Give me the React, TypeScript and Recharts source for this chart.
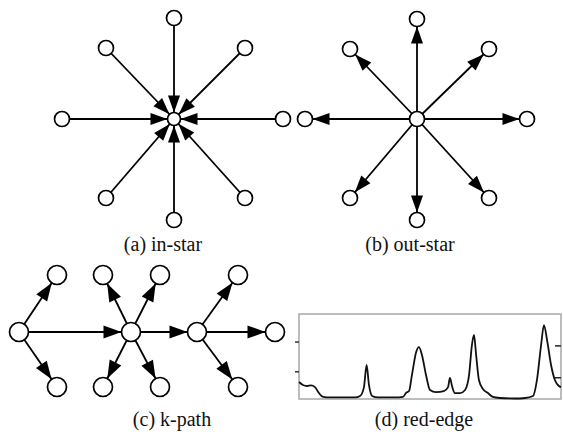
import { ComposedChart, LineChart, Line, Scatter, XAxis, YAxis, ReferenceArea, ReferenceLine } from 'recharts';

// (a) in-star: every leaf points into the hub
const inStarHub = { x: 174, y: 119 };
const inStarLeafX = [174, 106, 245, 62, 283, 106, 245, 174];
const inStarLeafY = [18, 48, 48, 119, 119, 198, 198, 220];

// (b) out-star: the hub points out to every leaf
const outStarHub = { x: 417, y: 119 };
const outStarLeafX = [417, 350, 489, 305, 527, 350, 489, 417];
const outStarLeafY = [19, 49, 49, 119, 119, 198, 198, 220];

// (c) k-path
const kPathX = [19, 57, 57, 131, 103, 160, 103, 160, 197, 238, 238, 275];
const kPathY = [332, 275, 387, 332, 275, 275, 387, 387, 332, 275, 387, 332];
const kPathEdges = [
  [0, 1], [0, 2], [0, 3],
  [3, 4], [3, 5], [3, 6], [3, 7], [3, 8],
  [8, 9], [8, 10], [8, 11],
];

// (d) red-edge spectrum
const redEdgeBand = [
  0, 1.5, 3.1, 4.6, 6.1, 7.6, 9.2, 11.8, 15.6, 21.4, 23.3, 24.8, 25.8, 26.7, 27.9,
  30.2, 36.6, 39.7, 40.8, 42, 43.1, 44.7, 45.8, 46.9, 48.5, 50, 52.3, 55.3, 56.9,
  57.6, 58.4, 59.5, 61.5, 63.4, 64.9, 66, 66.8, 67.6, 68.7, 70.2, 72.1, 74, 76.7,
  82.4, 86.3, 89.3, 90.8, 92.4, 93.5, 94.7, 96.2, 97.7, 99.2, 100,
];
const redEdgeValue = [
  0.2, 0.165, 0.153, 0.16, 0.14, 0.07, 0.024, 0.018, 0.018, 0.018, 0.035, 0.14, 0.4,
  0.165, 0.035, 0.018, 0.018, 0.024, 0.07, 0.094, 0.28, 0.55, 0.61, 0.52, 0.28,
  0.106, 0.082, 0.094, 0.14, 0.247, 0.153, 0.07, 0.07, 0.106, 0.28, 0.635, 0.753,
  0.52, 0.22, 0.118, 0.07, 0.024, 0.012, 0.006, 0.012, 0.035, 0.22, 0.635, 0.87,
  0.69, 0.4, 0.22, 0.153, 0.14,
];
const leftTicks = [0.32, 0.67];
const rightTicks = [0.25, 0.625];

const captions = [
  { text: '(a) in-star', cx: 163, top: 234 },
  { text: '(b) out-star', cx: 410, top: 234 },
  { text: '(c) k-path', cx: 172, top: 409 },
  { text: '(d) red-edge', cx: 424, top: 409 },
];

const toPoints = (xs: number[], ys: number[]) => xs.map((x, i) => ({ x, y: ys[i] }));

const inStarLeaves = toPoints(inStarLeafX, inStarLeafY);
const outStarLeaves = toPoints(outStarLeafX, outStarLeafY);
const kPathNodes = toPoints(kPathX, kPathY);
const spectrum = redEdgeBand.map((band, i) => ({ band, value: redEdgeValue[i] }));

type Edge = { id: string; from: { x: number; y: number }; to: { x: number; y: number }; marker: string };

const edges: Edge[] = [
  ...inStarLeaves.map((p, i) => ({ id: `in-${i}`, from: p, to: inStarHub, marker: 'arrowHub' })),
  ...outStarLeaves.map((p, i) => ({ id: `out-${i}`, from: outStarHub, to: p, marker: 'arrowLeaf' })),
  ...kPathEdges.map(([a, b]) => ({ id: `k-${a}-${b}`, from: kPathNodes[a], to: kPathNodes[b], marker: 'arrowPath' })),
];

const nodeShape = (r: number) => (props: any) => (
  <circle cx={props.cx} cy={props.cy} r={r} fill="#fff" stroke="#000" strokeWidth={1.7} />
);

const noLabel = () => <g />;

// inward tick stub on the right edge of the box
const rightTickShape = (props: any) => {
  const x2 = Math.max(props.x1, props.x2);
  const y = props.y1;
  return <line x1={x2 - 6} y1={y} x2={x2} y2={y} stroke="#222" strokeWidth={1.5} />;
};

function Arrow({ id, len, wide, r }: { id: string; len: number; wide: number; r: number }) {
  return (
    <marker
      id={id}
      markerUnits="userSpaceOnUse"
      markerWidth={len}
      markerHeight={wide}
      refX={len + r}
      refY={wide / 2}
      orient="auto"
      overflow="visible"
    >
      <path d={`M0,0 L${len},${wide / 2} L0,${wide} Z`} fill="#000" />
    </marker>
  );
}

const serif = "'Liberation Serif', 'Times New Roman', Times, serif";

export default function App() {
  return (
    <div style={{ position: 'fixed', left: 0, top: 0, width: 563, height: 432, background: '#fff' }}>
      <svg width={0} height={0} style={{ position: 'absolute' }}>
        <defs>
          <Arrow id="arrowHub" len={17} wide={12} r={6.5} />
          <Arrow id="arrowLeaf" len={17} wide={12} r={7.5} />
          <Arrow id="arrowPath" len={18} wide={13} r={9.5} />
        </defs>
      </svg>

      {/* graph panels a, b, c */}
      <ComposedChart width={563} height={432} margin={{ top: 0, right: 0, bottom: 0, left: 0 }} style={{ position: 'absolute', left: 0, top: 0 }}>
        <XAxis dataKey="x" type="number" domain={[0, 563]} hide />
        <YAxis dataKey="y" type="number" domain={[0, 432]} reversed hide />
        {edges.map((e) => (
          <Line
            key={e.id}
            data={[e.from, e.to]}
            dataKey="y"
            type="linear"
            stroke="#000"
            strokeWidth={1.8}
            dot={false}
            activeDot={false}
            markerEnd={`url(#${e.marker})`}
            isAnimationActive={false}
          />
        ))}
        <Scatter data={inStarLeaves} shape={nodeShape(7.5)} isAnimationActive={false} />
        <Scatter data={[inStarHub]} shape={nodeShape(6.5)} isAnimationActive={false} />
        <Scatter data={[outStarHub, ...outStarLeaves]} shape={nodeShape(7.5)} isAnimationActive={false} />
        <Scatter data={kPathNodes} shape={nodeShape(9.5)} isAnimationActive={false} />
      </ComposedChart>

      {/* panel d */}
      <LineChart
        width={268}
        height={87}
        data={spectrum}
        margin={{ top: 1, right: 2, bottom: 1, left: 0 }}
        style={{ position: 'absolute', left: 295, top: 313 }}
      >
        <XAxis dataKey="band" type="number" domain={[0, 100]} hide />
        <YAxis type="number" domain={[0, 1]} ticks={leftTicks} tick={noLabel} tickSize={4} tickLine={{ stroke: '#333', strokeWidth: 1.5 }} axisLine={false} width={4} />
        <ReferenceArea x1={0} x2={100} y1={0} y2={1} fill="none" stroke="#a8a8a8" strokeWidth={1.5} ifOverflow="visible" />
        {rightTicks.map((t) => (
          <ReferenceLine key={t} y={t} shape={rightTickShape} ifOverflow="visible" />
        ))}
        <Line type="monotone" dataKey="value" stroke="#111" strokeWidth={1.8} dot={false} activeDot={false} isAnimationActive={false} />
      </LineChart>

      <svg width={563} height={432} style={{ position: 'absolute', left: 0, top: 0, pointerEvents: 'none' }}>
        {captions.map((c) => (
          <text key={c.text} x={c.cx} y={c.top + 17} textAnchor="middle" fontFamily={serif} fontSize={20} fill="#111">
            {c.text}
          </text>
        ))}
      </svg>
    </div>
  );
}
